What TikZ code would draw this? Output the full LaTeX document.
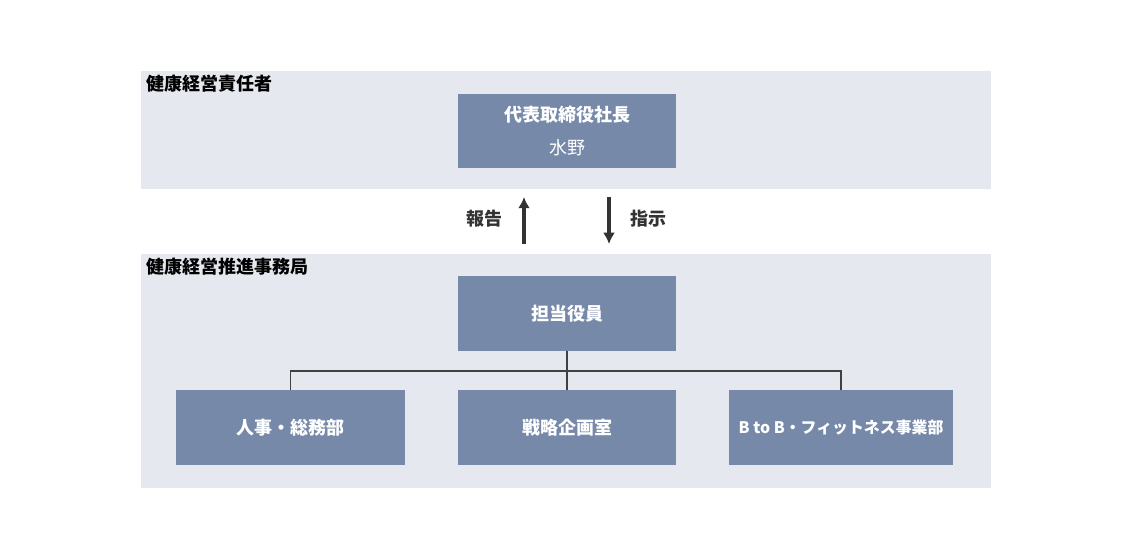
\documentclass[tikz,border=0pt]{standalone}
\usepackage{fontspec}
\setmainfont{Noto Sans CJK JP}
\usepackage{tikz}
\usetikzlibrary{arrows.meta}
\definecolor{bandgray}{RGB}{229, 232, 239}
\definecolor{boxblue}{RGB}{118, 137, 169}
\definecolor{linegray}{RGB}{64, 64, 64}

\begin{document}
\begin{tikzpicture}[x=0.025cm, y=-0.025cm, every node/.style={font=\fontsize{12.8}{15}\selectfont},
    unitbox/.style={rectangle, fill=boxblue, text=white, font=\fontsize{12.8}{15}\selectfont\bfseries,
        minimum width=5.45cm, minimum height=1.85cm, inner sep=0pt, outer sep=0pt, align=center},
    bandlabel/.style={anchor=west, font=\fontsize{12.8}{15}\selectfont\bfseries, inner sep=0pt},
    flow/.style={-{Latex[length=8pt, width=8.5pt]}, line width=2.5pt, draw=linegray!80!black}]
                \useasboundingbox (0, 0) rectangle (1130, 556);

                % Bands
                \fill[bandgray] (141, 71) rectangle (991, 189);
                \fill[bandgray] (141, 254) rectangle (991, 488);
                \node[bandlabel] (topband) at (146, 84) {健康経営責任者};
                \node[bandlabel] (lowband) at (146, 267) {健康経営推進事務局};

                % Boxes
                \node[unitbox] (president) at (567, 131) {代表取締役社長\\[9pt]{\mdseries 水野}};
                \node[unitbox] (officer) at (567, 313.5) {担当役員};
                \node[unitbox, minimum width=5.725cm] (hr) at (290.5, 427.5) {人事・総務部};
                \node[unitbox] (strategy) at (567, 427.5) {戦略企画室};
                \node[unitbox, minimum width=5.6cm, font=\fontsize{11.3}{13}\selectfont\bfseries] (fitness) at (841, 427.5) {B to B・フィットネス事業部};

                % Report / instruction
                \coordinate (upfrom) at (524, 244);
                \coordinate (upto) at (524, 197);
                \coordinate (downfrom) at (609, 197);
                \coordinate (downto) at (609, 244);
                \draw[flow] (upfrom) -- (upto);
                \draw[flow] (downfrom) -- (downto);
                \node[font=\fontsize{12.8}{15}\selectfont\bfseries, text=linegray!80!black] (report) at (484, 219) {報告};
                \node[font=\fontsize{12.8}{15}\selectfont\bfseries, text=linegray!80!black] (order) at (648, 219) {指示};

                % Tree
                \coordinate (split) at (567, 371);
                \draw[linegray, line width=0.9pt] (officer.south) -- (split);
                \foreach \unit in {hr, strategy, fitness} {
                    \draw[linegray, line width=0.9pt] (split) -| (\unit.north);
                }
            \end{tikzpicture}
\end{document}
